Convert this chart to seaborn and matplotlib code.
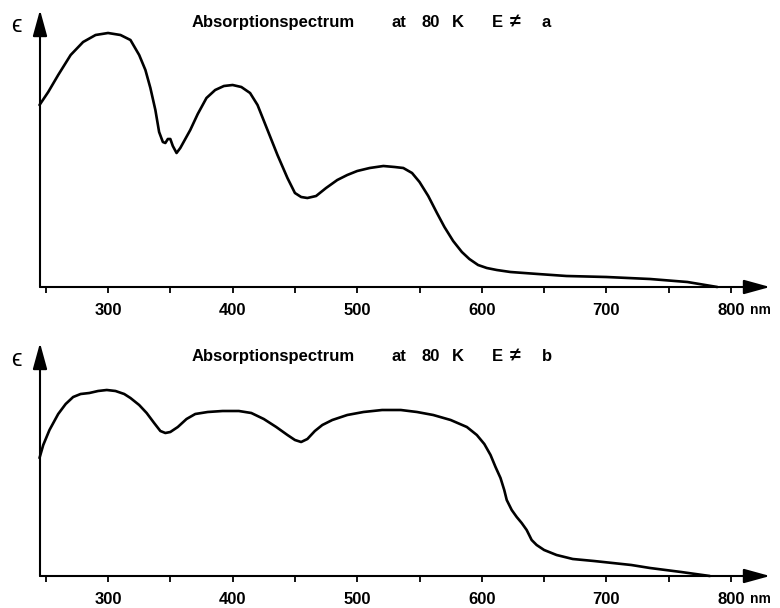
#Importing necessary libraries:
import numpy as np
import pandas as pd
import seaborn as sns
import matplotlib.pyplot as plt

sns.set_style('white')
plt.rcParams['font.family'] = ['Liberation Sans', 'DejaVu Sans']
plt.rcParams['text.color'] = 'black'
plt.rcParams['xtick.color'] = 'black'

#Spectrum E ≠ a (wavelength in nm, epsilon in arbitrary units):
wl_a = [245, 252, 260, 270, 280, 290, 300, 310, 318, 325, 330, 334, 338, 341, 344, 346, 348, 350,
        352, 355, 358, 362, 366, 372, 379, 386, 393, 400, 407, 414, 420, 428, 436, 444, 450, 455,
        460, 467, 475, 484, 492, 500, 510, 521, 530, 537, 544, 550, 557, 564, 570, 577, 584, 590,
        597, 604, 612, 623, 645, 668, 700, 735, 765, 789]
eps_a = [1.82, 1.95, 2.12, 2.32, 2.45, 2.52, 2.54, 2.52, 2.47, 2.32, 2.17, 1.99, 1.77, 1.55, 1.45,
         1.44, 1.48, 1.48, 1.41, 1.34, 1.39, 1.48, 1.57, 1.73, 1.89, 1.97, 2.01, 2.02, 2.00, 1.94,
         1.82, 1.57, 1.32, 1.09, 0.94, 0.90, 0.89, 0.91, 0.99, 1.07, 1.12, 1.16, 1.19, 1.21, 1.20,
         1.19, 1.14, 1.05, 0.91, 0.74, 0.60, 0.46, 0.35, 0.28, 0.22, 0.19, 0.17, 0.15, 0.13, 0.11,
         0.10, 0.08, 0.05, 0.00]

#Spectrum E ≠ b:
wl_b = [245, 248, 253, 260, 266, 272, 278, 285, 292, 299, 306, 313, 318, 325, 331, 337, 342, 346,
        350, 356, 363, 370, 380, 392, 405, 415, 425, 435, 444, 450, 455, 460, 466, 472, 480, 492,
        505, 520, 535, 548, 561, 575, 588, 596, 602, 607, 611, 615, 618, 620, 624, 628, 632, 636,
        640, 644, 650, 660, 673, 690, 705, 720, 735, 760, 783]
eps_b = [1.18, 1.31, 1.46, 1.62, 1.72, 1.79, 1.82, 1.83, 1.85, 1.86, 1.85, 1.82, 1.78, 1.71, 1.63,
         1.53, 1.45, 1.43, 1.44, 1.49, 1.57, 1.62, 1.64, 1.65, 1.65, 1.63, 1.57, 1.49, 1.41, 1.36,
         1.34, 1.37, 1.45, 1.51, 1.56, 1.61, 1.64, 1.66, 1.66, 1.64, 1.61, 1.56, 1.49, 1.41, 1.32,
         1.21, 1.09, 0.98, 0.86, 0.76, 0.66, 0.59, 0.53, 0.46, 0.36, 0.31, 0.26, 0.21, 0.17, 0.15,
         0.13, 0.11, 0.08, 0.04, 0.00]

major_ticks = [300, 400, 500, 600, 700, 800]
minor_ticks = [250, 350, 450, 550, 650, 750]
titles = [('Absorptionspectrum', 'at', '80', 'K', 'E', '\u2260', 'a'),
          ('Absorptionspectrum', 'at', '80', 'K', 'E', '\u2260', 'b')]

W, H = 780, 608
fig = plt.figure(figsize=(W / 100, H / 100), dpi=100)

# panel boxes in pixels: (left, right, baseline, arrow top)
boxes = [(40, 770, 287, 10), (40, 770, 576, 343)]
ylims = [2.77, 2.33]
data = [(wl_a, eps_a), (wl_b, eps_b)]
title_base = [27, 361]

for i in range(2):
    l, r, b, t = boxes[i]
    ax = fig.add_axes([l / W, 1 - b / H, (r - l) / W, (b - t) / H])
    wl, ep = data[i]
    df = pd.DataFrame({'wl': wl, 'eps': ep})
    sns.lineplot(data=df, x='wl', y='eps', ax=ax, color='black', lw=1.9, clip_on=False)
    ax.set_xlim(245.4, 831.3)
    ax.set_ylim(0, ylims[i])
    for s in ax.spines.values():
        s.set_visible(False)
    ax.set_xlabel('')
    ax.set_ylabel('')
    ax.set_yticks([])
    ax.set_xticks(major_ticks)
    ax.set_xticks(minor_ticks, minor=True)
    ax.set_xticklabels([str(v) for v in major_ticks], fontsize=12, fontweight='bold')
    ax.tick_params(axis='x', which='both', direction='out', length=4.5, width=1.3,
                   color='black', pad=7, bottom=True)
    # axis arrows
    arrow = dict(arrowstyle='-|>,head_length=0.8,head_width=0.22', color='black', lw=1.5,
                 mutation_scale=20, shrinkA=0, shrinkB=0)
    ax.annotate('', xy=(1, 0), xytext=(0, 0), xycoords='axes fraction', arrowprops=arrow)
    ax.annotate('', xy=(0, 1), xytext=(0, 0), xycoords='axes fraction', arrowprops=arrow)

    # texts
    yb = 1 - title_base[i] / H
    for txt, x in zip(titles[i], [192, 391, 421, 452, 492, 510, 542]):
        size = 14 if txt == '\u2260' else 12
        fig.text(x / W, yb, txt, fontsize=size, fontweight='bold', va='baseline', ha='left')
    fig.text(16 / W, 1 - (title_base[i] + 5) / H, '\u03f5', fontsize=17,
             va='baseline', ha='center')
    fig.text(760 / W, 1 - (b + 27) / H, 'nm', fontsize=10, fontweight='bold',
             va='baseline', ha='center')

fig.savefig('out.png', dpi=100)
